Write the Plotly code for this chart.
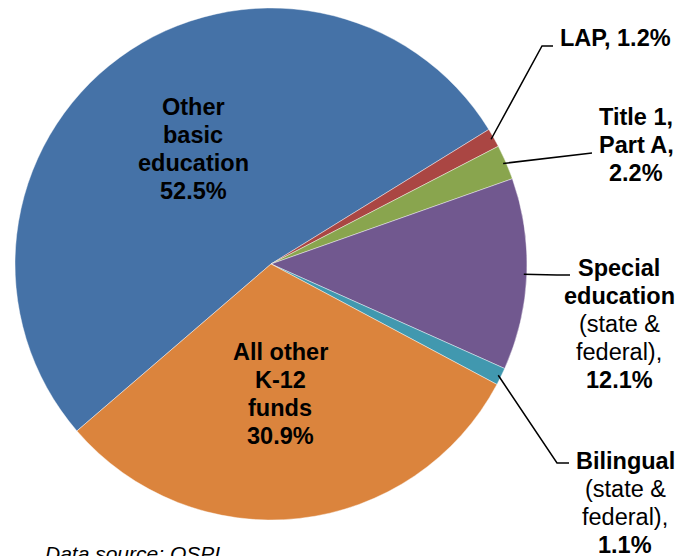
import math
import plotly.graph_objects as go

# ---- data ----
categories = ["Other basic education", "LAP", "Title 1, Part A",
              "Special education (state & federal)", "Bilingual (state & federal)",
              "All other K-12 funds"]
values = [52.5, 1.2, 2.2, 12.1, 1.1, 30.9]
colors = ["#4572A7", "#AA4643", "#89A54E", "#71588F", "#4198AF", "#DB843D"]
# label lines: (text, bold)
label_lines = [
    [("Other", 1), ("basic", 1), ("education", 1), ("52.5%", 1)],
    [("LAP, 1.2%", 1)],
    [("Title 1,", 1), ("Part A,", 1), ("2.2%", 1)],
    [("Special", 1), ("education", 1), ("(state &", 0), ("federal),", 0), ("12.1%", 1)],
    [("Bilingual", 1), ("(state &", 0), ("federal),", 0), ("1.1%", 1)],
    [("All other", 1), ("K-12", 1), ("funds", 1), ("30.9%", 1)],
]
source_text = "Data source: OSPI"

W, H = 689, 556
CX, CY, R = 271, 264, 256
ROT = 229.3
LINE_H = 28
FONT = "Liberation Sans, Arial"

def px(x, y):
    return x / W, 1 - y / H

fig = go.Figure(go.Pie(
    labels=categories, values=values, sort=False, direction="clockwise",
    rotation=ROT, textinfo="none", hoverinfo="label+percent",
    marker=dict(colors=colors, line=dict(color="rgba(255,255,255,0.6)", width=0.7)),
    domain=dict(x=[(CX - R) / W, (CX + R) / W], y=[1 - (CY + R) / H, 1 - (CY - R) / H]),
    showlegend=False,
))

# label block centres (pixels) and leader line bends
label_pos = [(193, 149), (615, 38), (636, 145), (619, 324), (625, 503), (280, 394)]
bends = [None, [(542, 46), (553, 46)], [(592, 153)], [(557, 275), (570, 275)],
         [(557, 463), (569, 463)], None]

total = sum(values)
cum = 0
annotations = []
shapes = []
for i, v in enumerate(values):
    mid = ROT + 360 * (cum + v / 2) / total
    cum += v
    lines = label_lines[i]
    n = len(lines)
    bx, by = label_pos[i]
    for k, (t, b) in enumerate(lines):
        ly = by + (k - (n - 1) / 2) * LINE_H
        x, y = px(bx, ly)
        annotations.append(dict(x=x, y=y, xref="paper", yref="paper",
                                text=f"<b>{t}</b>" if b else t,
                                showarrow=False, xanchor="center", yanchor="middle",
                                font=dict(family=FONT, size=23.5, color="black")))
    if bends[i]:
        a = math.radians(mid)
        sx = CX + (R - 3) * math.sin(a)
        sy = CY - (R - 3) * math.cos(a)
        pts = [(sx, sy)] + bends[i]
        path = "M " + " L ".join(f"{px(p[0], p[1])[0]},{px(p[0], p[1])[1]}" for p in pts)
        shapes.append(dict(type="path", xref="paper", yref="paper", path=path,
                           line=dict(color="black", width=1.5)))

sx, sy = px(43, 553)
annotations.append(dict(x=sx, y=sy, xref="paper", yref="paper", text=f"<i>{source_text}</i>",
                        showarrow=False, xanchor="left", yanchor="middle",
                        font=dict(family=FONT, size=21, color="black")))

fig.update_layout(width=W, height=H, margin=dict(l=0, r=0, t=0, b=0),
                  paper_bgcolor="white", plot_bgcolor="white",
                  annotations=annotations, shapes=shapes)
fig.write_html("out.html", config={"displayModeBar": False},
               post_script="document.body.style.margin='0px';")
